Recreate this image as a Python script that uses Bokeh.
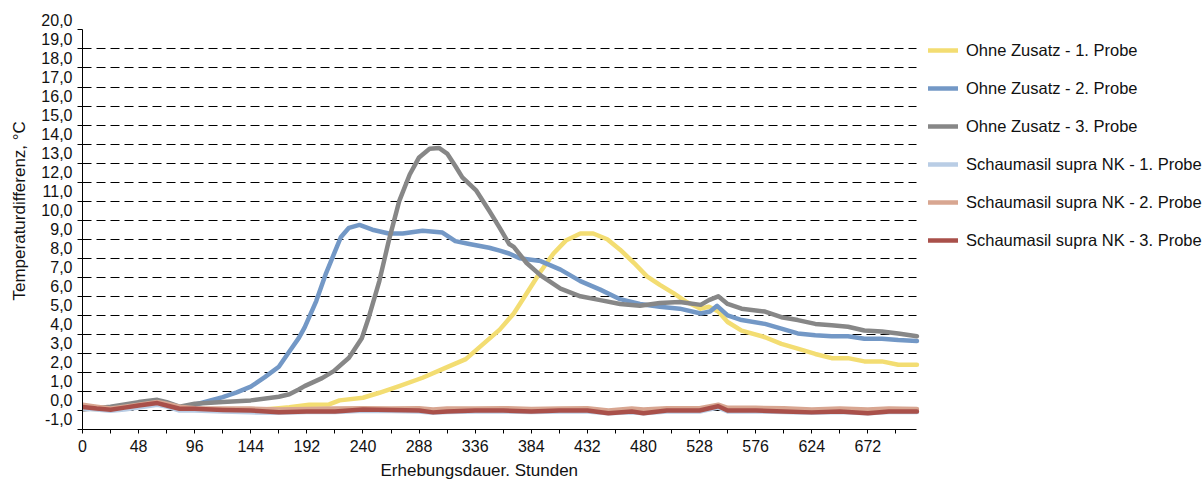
from bokeh.plotting import figure
from bokeh.models import (Range1d, LinearAxis, FixedTicker, CustomJSTickFormatter,
                          Legend, LegendItem, Title)
from bokeh.embed import file_html
from bokeh.resources import INLINE

# ---------------- data ----------------
series_labels = [
    "Ohne Zusatz - 1. Probe",
    "Ohne Zusatz - 2. Probe",
    "Ohne Zusatz - 3. Probe",
    "Schaumasil supra NK - 1. Probe",
    "Schaumasil supra NK - 2. Probe",
    "Schaumasil supra NK - 3. Probe",
]

x_ticks = list(range(0, 700, 48))
x_minor_ticks = list(range(24, 714, 48))
y_ticks = list(range(-1, 21))
y_grid = list(range(0, 20))

hours_o1 = [0, 24, 48, 66, 80, 96, 120, 144, 168, 177, 194, 211, 220, 240, 254, 271, 291, 311, 328, 342,
            357, 369, 380, 392, 403, 414, 426, 437, 449, 460, 472, 483, 494, 506, 517, 529, 536, 544, 552, 564,
            584, 598, 612, 627, 641, 655, 669, 684, 698, 714]
temp_o1 = [0.1, 0.05, 0.25, 0.35, 0.1, 0.05, 0.0, 0.0, 0.12, 0.17, 0.3, 0.32, 0.53, 0.67, 0.93, 1.28, 1.72, 2.25, 2.7, 3.45,
           4.25, 5.1, 6.15, 7.3, 8.25, 8.95, 9.3, 9.3, 9.0, 8.45, 7.75, 7.05, 6.6, 6.15, 5.7, 5.35, 5.45, 5.2, 4.65, 4.2,
           3.85, 3.5, 3.25, 2.97, 2.75, 2.75, 2.58, 2.58, 2.4, 2.4]

hours_o2 = [0, 24, 48, 64, 72, 83, 96, 108, 120, 132, 144, 156, 168, 177, 185, 190, 200, 208, 215, 221,
            228, 237, 248, 262, 274, 291, 308, 319, 331, 348, 357, 365, 374, 392, 409, 426, 443, 460, 477, 494,
            511, 529, 537, 543, 552, 564, 584, 598, 612, 627, 641, 655, 669, 684, 698, 714]
temp_o2 = [0.1, 0.1, 0.35, 0.45, 0.35, 0.15, 0.3, 0.5, 0.7, 0.95, 1.25, 1.75, 2.3, 3.1, 3.8, 4.35, 5.75, 7.15, 8.2, 9.1,
           9.6, 9.75, 9.5, 9.3, 9.3, 9.45, 9.35, 8.9, 8.75, 8.55, 8.4, 8.25, 8.0, 7.85, 7.4, 6.8, 6.35, 5.85, 5.6, 5.45,
           5.35, 5.1, 5.2, 5.5, 5.0, 4.75, 4.55, 4.3, 4.05, 3.95, 3.9, 3.9, 3.77, 3.77, 3.7, 3.65]

hours_o3 = [0, 24, 48, 64, 72, 83, 96, 120, 144, 168, 177, 185, 190, 205, 215, 228, 239, 245, 254, 262,
            271, 280, 288, 297, 305, 312, 319, 325, 337, 348, 357, 365, 369, 380, 392, 409, 426, 443, 460, 477,
            494, 511, 529, 536, 544, 552, 564, 584, 598, 612, 627, 641, 655, 669, 684, 698, 714]
temp_o3 = [0.05, 0.2, 0.44, 0.56, 0.44, 0.2, 0.35, 0.44, 0.53, 0.72, 0.85, 1.1, 1.28, 1.7, 2.07, 2.77, 3.8, 4.9, 6.8, 8.9,
           11.0, 12.4, 13.3, 13.75, 13.8, 13.5, 12.85, 12.25, 11.55, 10.5, 9.6, 8.75, 8.6, 7.75, 7.1, 6.4, 6.0, 5.8, 5.6, 5.5,
           5.65, 5.7, 5.55, 5.8, 6.0, 5.6, 5.35, 5.2, 4.9, 4.75, 4.55, 4.48, 4.4, 4.2, 4.15, 4.05, 3.9]

hours_s = [0, 12, 24, 36, 48, 64, 72, 83, 96, 120, 144, 168, 192, 216, 240, 264, 288, 300, 312, 336,
           360, 384, 408, 432, 450, 470, 480, 500, 528, 544, 552, 576, 600, 624, 648, 672, 690, 714]
temp_s1 = [0.1, 0.05, -0.02, 0.05, 0.15, 0.3, 0.2, 0.0, 0.0, -0.05, -0.1, -0.12, -0.08, -0.08, -0.02, -0.03, -0.05, -0.12, -0.08, -0.05,
           -0.05, -0.08, -0.05, -0.05, -0.15, -0.1, -0.15, -0.05, -0.05, 0.15, -0.05, -0.05, -0.08, -0.12, -0.08, -0.15, -0.08, -0.08]
temp_s2 = [0.3, 0.2, 0.1, 0.2, 0.3, 0.45, 0.35, 0.2, 0.12, 0.1, 0.1, 0.05, 0.08, 0.1, 0.12, 0.1, 0.12, 0.05, 0.1, 0.1,
           0.12, 0.08, 0.1, 0.12, 0.0, 0.1, 0.05, 0.12, 0.12, 0.3, 0.14, 0.14, 0.12, 0.05, 0.1, 0.05, 0.1, 0.08]
temp_s3 = [0.18, 0.1, 0.04, 0.15, 0.26, 0.39, 0.26, 0.09, 0.09, 0.03, 0.0, -0.09, -0.05, -0.05, 0.05, 0.03, 0.0, -0.1, -0.05, 0.0,
           0.0, -0.05, 0.0, 0.0, -0.15, -0.05, -0.15, 0.0, 0.0, 0.22, 0.0, 0.0, -0.05, -0.1, -0.05, -0.15, -0.05, -0.05]

colors = ["#F3DD72", "#7398C6", "#878787", "#B9CDE5", "#D8A691", "#A9504A"]

# ---------------- figure ----------------
FONT = "Liberation Sans"
TXT = "#111111"
X_END = 714

# the frame reaches the right edge so that the legend can sit beside the data area;
# grid lines and x axis stop at the last hour
p = figure(width=1203, height=488, x_range=Range1d(0, 959.2), y_range=Range1d(-1, 20.6),
           output_backend="svg", toolbar_location=None,
           min_border_left=82, min_border_right=0, min_border_top=18, min_border_bottom=59)
p.title.visible = False
p.outline_line_color = None
p.background_fill_color = "white"
p.border_fill_color = "white"

p.xgrid.visible = False
p.ygrid.ticker = FixedTicker(ticks=y_grid)
p.ygrid.grid_line_color = "black"
p.ygrid.grid_line_dash = "9 5"
p.ygrid.grid_line_width = 1
try:
    p.ygrid.cross_bounds = (0, X_END)
except Exception:
    p.ygrid.visible = False
    p.multi_line(xs=[[0, X_END] for _ in y_grid], ys=[[v, v] for v in y_grid],
                 line_color="black", line_dash="9 5", line_width=1, level="underlay")

xax = p.xaxis[0]
xax.ticker = FixedTicker(ticks=x_ticks, minor_ticks=x_minor_ticks)
xax.bounds = (0, X_END)
xax.major_tick_out = 4
xax.major_tick_in = 0
xax.minor_tick_out = 4
xax.minor_tick_in = 0
xax.axis_line_color = "black"
xax.major_tick_line_color = "black"
xax.minor_tick_line_color = "black"
xax.major_label_text_font = FONT
xax.major_label_text_font_size = "16px"
xax.major_label_text_color = TXT
xax.major_label_standoff = 6

yax = p.yaxis[0]
yax.ticker = FixedTicker(ticks=y_ticks)
yax.bounds = (-1, 20)
yax.major_tick_out = 5
yax.major_tick_in = 0
yax.minor_tick_line_color = None
yax.axis_line_color = "black"
yax.major_tick_line_color = "black"
yax.formatter = CustomJSTickFormatter(code="return '';")
yax.major_label_standoff = 0

# labels of the y axis sit half a unit above their grid lines, as in the reference
p.extra_y_ranges = {"lbl": Range1d(-1.526, 20.074)}
lax = LinearAxis(y_range_name="lbl", ticker=FixedTicker(ticks=y_ticks),
                 formatter=CustomJSTickFormatter(code="return tick.toFixed(1).replace('.', ',');"))
lax.axis_line_color = None
lax.major_tick_line_color = None
lax.minor_tick_line_color = None
lax.major_tick_out = 0
lax.major_tick_in = 0
lax.minor_tick_out = 0
lax.minor_tick_in = 0
lax.major_label_standoff = 5
lax.major_label_text_font = FONT
lax.major_label_text_font_size = "16px"
lax.major_label_text_color = TXT
p.add_layout(lax, "left")

ytitle = Title(text="Temperaturdifferenz, °C", align="left", offset=129,
               vertical_align="top",
               text_font=FONT, text_font_size="17px", text_font_style="normal",
               text_color=TXT, standoff=16)
p.add_layout(ytitle, "left")

xtitle = Title(text="Erhebungsdauer. Stunden", align="left", offset=298,
               vertical_align="bottom",
               text_font=FONT, text_font_size="17px", text_font_style="normal",
               text_color=TXT, standoff=8)
p.add_layout(xtitle, "below")

xs = [hours_o1, hours_o2, hours_o3, hours_s, hours_s, hours_s]
ys = [temp_o1, temp_o2, temp_o3, temp_s1, temp_s2, temp_s3]
items = []
for lab, x, y, c in zip(series_labels, xs, ys, colors):
    r = p.line(x, y, line_color=c, line_width=4.5, line_join="round", line_cap="round")
    items.append(LegendItem(label=lab, renderers=[r]))

legend = Legend(items=items, location=(846, 179), orientation="vertical",
                glyph_width=30, glyph_height=20, label_height=20, spacing=18,
                label_standoff=8, padding=0, margin=0,
                border_line_color=None, background_fill_alpha=0,
                label_text_font=FONT, label_text_font_size="16.5px", label_text_color=TXT)
p.add_layout(legend, "center")

open("out.html", "w").write(file_html(p, INLINE))
